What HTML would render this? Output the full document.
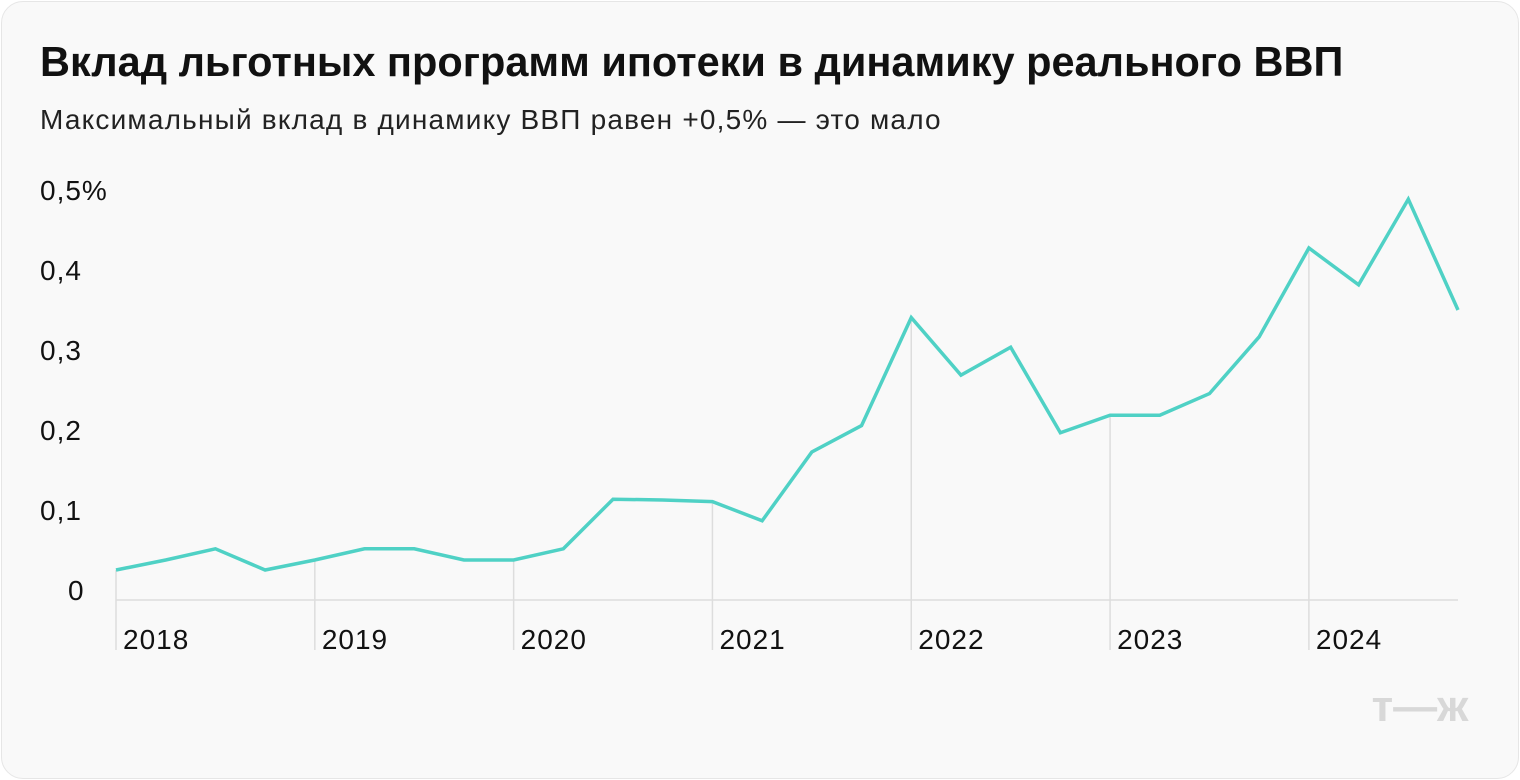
<!DOCTYPE html>
<html><head><meta charset="utf-8"><style>
body{margin:0;background:#fff;font-family:"Liberation Sans",sans-serif}
.card{position:absolute;left:1px;top:1px;width:1516px;height:776px;background:#f9f9f9;border:1px solid #e6e6e6;border-radius:22px}
h1{position:absolute;left:40px;top:38px;margin:0;font-size:41.5px;font-weight:bold;color:#111;white-space:nowrap}
.sub{position:absolute;left:40px;top:104px;font-size:28px;letter-spacing:1.2px;color:#222;white-space:nowrap}
svg{position:absolute;left:0;top:0}
</style></head><body>
<div class="card"></div>
<h1>Вклад льготных программ ипотеки в динамику реального ВВП</h1>
<div class="sub">Максимальный вклад в динамику ВВП равен +0,5% — это мало</div>
<svg id="c" width="1520" height="780"></svg>
<script>
const years=["2018","2019","2020","2021","2022","2023","2024"];
const yTicks=[0,0.1,0.2,0.3,0.4,0.5];
const yTickLabels=["0","0,1","0,2","0,3","0,4","0,5%"];
const values=[0.0375,0.05,0.064,0.0375,0.05,0.064,0.064,0.05,0.05,0.064,0.126,0.125,0.123,0.099,0.185,0.218,0.353,0.281,0.316,0.209,0.231,0.231,0.258,0.329,0.44,0.394,0.501,0.3625];
const svg=document.getElementById('c');const NS='http://www.w3.org/2000/svg';
const x=i=>116+i*(1458-116)/27;
const y=v=>600-v*800;
function mk(t,a){const e=document.createElementNS(NS,t);for(const k in a)e.setAttribute(k,a[k]);svg.appendChild(e);return e;}
const base=mk('line',{x1:116,x2:1458,y1:600,y2:600,stroke:'#ddd','stroke-width':1.5});


yTicks.forEach((v,i)=>{const t=mk('text',{x:v===0?68:40,y:y(v)-0,'font-size':28,'letter-spacing':1,fill:'#111','font-family':'Liberation Sans'});t.textContent=yTickLabels[i];

});
years.forEach((yr,k)=>{const i=k*4;const l=mk('line',{x1:x(i),x2:x(i),y1:y(values[i]),y2:650,stroke:'#ddd','stroke-width':1.5});


const t=mk('text',{x:x(i)+7,y:649,'font-size':28,'letter-spacing':1,fill:'#111','font-family':'Liberation Sans'});t.textContent=yr;

});
const p=mk('polyline',{points:values.map((v,i)=>x(i)+','+y(v)).join(' '),fill:'none',stroke:'#4fd1c5','stroke-width':3.5,'stroke-linejoin':'miter'});


const lg=mk('text',{x:1420,y:721,'text-anchor':'middle','font-size':44,'font-weight':'bold',fill:'#d8d8d8','font-family':'Liberation Sans'});lg.textContent='т—ж';


</script>
</body></html>
